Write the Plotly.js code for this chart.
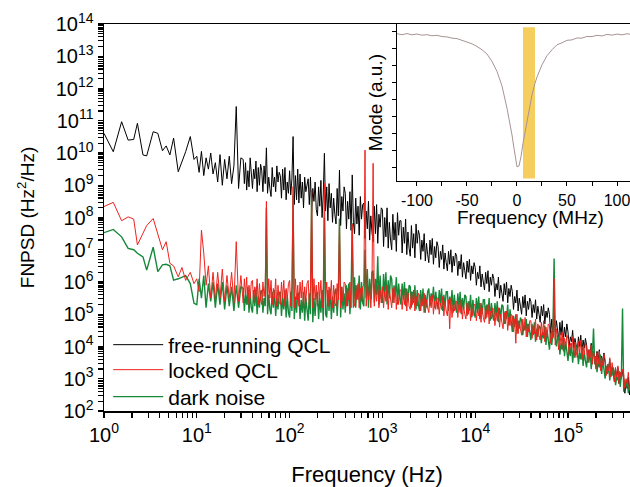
<!DOCTYPE html>
<html>
<head>
<meta charset="utf-8">
<script src="https://cdn.plot.ly/plotly-3.0.1.min.js"></script>
<style>html,body{margin:0;padding:0;background:#fff;}#chart{width:630px;height:487px;}</style>
</head>
<body>
<div id="chart"></div>
<script>
// ---- main spectrum: log10(frequency / Hz), shared by all three series ----
const logFreq = [0,0.10,0.19,0.26,0.32,0.36,0.42,0.46,0.53,0.58,0.63,0.67,0.71,0.75,0.80,0.84,0.88,0.93,0.97,
1,1.025,1.05,1.075,1.1,1.125,1.15,1.175,
1.2,1.225,1.25,1.275,1.3,1.325,1.35,1.375,
1.4,1.425,1.45,1.475,
1.5,1.5125,1.525,1.5375,1.55,1.5625,1.575,1.5875,
1.6,1.6125,1.625,1.6375,1.65,1.6625,1.675,1.6875,
1.7,1.7125,1.725,1.7375,1.75,1.7625,1.775,1.7875,
1.8,1.8125,1.825,1.8375,1.85,1.8625,1.875,1.8875,
1.9,1.9125,1.925,1.9375,1.95,1.9625,1.975,1.9875,
2,2.0125,2.025,2.0375,2.05,2.0625,2.075,2.0875,
2.1,2.1125,2.125,2.1375,2.15,2.1625,2.175,2.1875,
2.2,2.2125,2.225,2.2375,2.25,2.2625,2.275,2.2875,
2.3,2.3125,2.325,2.3375,2.35,2.3625,2.375,2.3875,
2.4,2.4125,2.425,2.4375,2.45,2.4625,2.475,2.4875,
2.5,2.5125,2.525,2.5375,2.55,2.5625,2.575,2.5875,
2.6,2.6125,2.625,2.6375,2.65,2.6625,2.675,2.6875,
2.7,2.7125,2.725,2.7375,2.75,2.7625,2.775,2.7875,
2.8,2.8125,2.825,2.8375,2.85,2.8625,2.875,2.8875,
2.9,2.9125,2.925,2.9375,2.95,2.9625,2.975,2.9875,
3,3.0125,3.025,3.0375,3.05,3.0625,3.075,3.0875,
3.1,3.1125,3.125,3.1375,3.15,3.1625,3.175,3.1875,
3.2,3.2125,3.225,3.2375,3.25,3.2625,3.275,3.2875,
3.3,3.3125,3.325,3.3375,3.35,3.3625,3.375,3.3875,
3.4,3.4125,3.425,3.4375,3.45,3.4625,3.475,3.4875,
3.5,3.5125,3.525,3.5375,3.55,3.5625,3.575,3.5875,
3.6,3.6125,3.625,3.6375,3.65,3.6625,3.675,3.6875,
3.7,3.7125,3.725,3.7375,3.75,3.7625,3.775,3.7875,
3.8,3.8125,3.825,3.8375,3.85,3.8625,3.875,3.8875,
3.9,3.9125,3.925,3.9375,3.95,3.9625,3.975,3.9875,
4,4.0125,4.025,4.0375,4.05,4.0625,4.075,4.0875,
4.1,4.1125,4.125,4.1375,4.15,4.1625,4.175,4.1875,
4.2,4.2125,4.225,4.2375,4.25,4.2625,4.275,4.2875,
4.3,4.3125,4.325,4.3375,4.35,4.3625,4.375,4.3875,
4.4,4.4125,4.425,4.4375,4.45,4.4625,4.475,4.4875,
4.5,4.5125,4.525,4.5375,4.55,4.5625,4.575,4.5875,
4.6,4.6125,4.625,4.6375,4.65,4.6625,4.675,4.6875,
4.7,4.7125,4.725,4.7375,4.75,4.7625,4.775,4.7875,
4.8,4.8125,4.825,4.8375,4.85,4.8625,4.875,4.8875,
4.9,4.9125,4.925,4.9375,4.95,4.9625,4.975,4.9875,
5,5.0125,5.025,5.0375,5.05,5.0625,5.075,5.0875,
5.1,5.1125,5.125,5.1375,5.15,5.1625,5.175,5.1875,
5.2,5.2125,5.225,5.2375,5.25,5.2625,5.275,5.2875,
5.3,5.3125,5.325,5.3375,5.35,5.3625,5.375,5.3875,
5.4,5.4125,5.425,5.4375,5.45,5.4625,5.475,5.4875,
5.5,5.5125,5.525,5.5375,5.55,5.5625,5.575,5.5875,
5.6,5.6125,5.625,5.6375,5.65,5.6625,5.675,5.6875];

// log10(FNPSD / (Hz^2/Hz))
const freeRunning = [10.61,10.04,10.97,10.40,10.42,10.92,9.94,9.91,10.66,10.61,10.07,10.22,9.94,10.46,9.42,9.73,10.04,10.51,9.8,
9.9,9.4,10.05,9.3,9.85,9.5,10.0,9.35,
9.7,9.1,9.95,9.0,9.8,9.2,9.9,9.05,
9.6,11.44,8.9,9.85,
9.8,9.05,9.7,8.85,9.45,8.95,9.85,9.2,
8.9,9.5,9.2,9.75,8.8,9.55,9.0,9.65,
9.45,8.8,9.6,9.05,10.16,8.75,9.25,8.9,
8.65,9.55,8.95,9.25,8.8,9.6,9.1,9.4,
9.3,8.6,9.5,8.85,9.55,8.55,9.1,8.75,
9.45,8.7,9.2,10.51,8.4,9.3,8.55,9.5,
8.45,9.35,8.6,9.1,8.3,9.25,8.8,9.0,
9.2,8.4,9.25,8.15,8.9,8.5,9.1,8.25,
8.05,8.95,8.35,9.15,8.0,8.7,9.99,8.2,
8.95,7.9,9.05,8.3,8.75,7.85,8.6,8.1,
7.8,8.9,8.05,9.47,7.75,8.65,8.2,8.95,
8.75,7.65,8.5,7.95,8.8,7.6,9.32,7.85,
7.5,8.6,7.8,8.35,7.45,8.65,7.95,8.4,
8.45,7.35,8.2,7.65,8.5,7.3,8.05,7.55,
7.25,8.35,7.5,8.4,7.2,8.1,7.7,8.3,
8.25,7.1,8.0,7.4,8.3,7.05,7.85,7.3,
7.0,8.1,7.3,7.85,6.95,8.15,7.45,7.9,
7.9,6.9,7.7,7.2,7.95,6.85,7.55,7.05,
6.8,7.75,7.05,7.5,6.75,7.8,7.2,7.6,
7.45,6.7,7.3,6.95,7.5,6.65,7.2,6.85,
6.6,7.3,6.85,7.35,6.55,7.1,6.75,7.25,
7.1,6.45,6.95,6.7,7.15,6.4,6.9,6.6,
6.35,6.95,6.55,7.0,6.3,6.8,6.5,6.9,
6.8,6.2,6.65,6.4,6.85,6.15,6.6,6.35,
6.1,6.65,6.3,6.7,6.05,6.5,6.25,6.6,
6.45,5.9,6.3,6.1,6.5,5.85,6.25,6.0,
5.75,6.3,5.95,6.35,5.7,6.15,5.9,6.25,
6.1,5.55,5.95,5.75,6.15,5.5,5.9,5.65,
5.4,5.95,5.6,6.0,5.35,5.8,5.55,5.9,
5.7,5.15,5.55,5.35,5.75,5.1,5.5,5.25,
5.0,5.55,5.2,5.6,4.95,5.4,5.15,5.5,
5.4,4.9,5.3,5.05,5.45,4.85,5.25,5.0,
4.75,5.25,4.95,5.3,4.7,5.1,4.9,5.2,
5.0,4.4,4.85,4.3,5.05,4.45,4.8,4.5,
4.2,4.75,4.35,4.8,4.15,4.6,4.3,4.7,
4.45,4.0,4.3,4.15,4.5,3.95,4.25,4.05,
3.85,4.3,4.0,4.35,3.8,4.2,3.95,4.25,
4.05,3.6,3.9,3.75,4.1,3.55,3.85,3.7,
3.4,3.85,3.55,3.9,3.35,3.7,3.5,3.8,
3.55,3.15,3.4,3.3,3.6,3.1,3.35,3.2,
2.9,3.3,3.05,3.35,2.85,3.2,3.0,3.25,
3.0,2.55,2.85,2.7,3.05,2.5,2.8,2.6];

const lockedQCL = [8.34,8.47,7.90,8.02,7.95,7.15,7.51,7.75,7.97,7.51,7.0,7.25,6.58,6.5,6.16,6.45,6.05,6.3,5.95,
6.1,5.7,7.61,6.9,5.9,6.5,5.5,6.3,
5.45,6.3,5.5,6.4,5.4,6.2,5.5,6.3,
5.35,7.25,5.4,6.2,
5.35,6.1,5.6,6.15,5.3,5.9,5.5,6.0,
6.05,5.35,5.85,5.55,6.1,5.3,5.95,5.45,
5.3,6.0,5.55,5.9,8.5,5.25,6.1,5.5,
6.05,5.3,5.8,5.5,6.1,5.25,5.9,5.4,
5.3,6.0,5.5,6.05,5.25,5.8,5.45,5.95,
6.05,5.25,5.85,8.96,5.2,6.1,5.45,5.9,
5.25,6.0,5.5,6.05,5.2,5.85,5.4,5.95,
6.05,5.3,5.8,8.85,5.2,6.1,5.45,5.9,
5.25,6.0,5.5,6.05,5.2,5.85,9.06,5.4,
6.0,5.25,5.85,5.45,6.05,5.2,5.9,5.35,
5.25,5.95,5.45,7.9,5.2,5.85,5.4,6.0,
5.95,5.25,5.8,5.45,6.0,5.2,7.8,5.35,
5.25,5.9,5.45,5.95,5.2,5.8,5.4,5.85,
5.9,10.09,5.25,5.75,5.45,5.95,5.2,5.85,
9.68,5.25,5.8,5.4,5.9,5.2,5.75,5.35,
5.85,5.2,5.7,5.4,5.9,5.15,5.75,5.35,
5.2,5.8,5.35,5.85,5.15,5.65,5.3,5.75,
5.75,5.15,5.6,5.3,5.8,5.1,5.65,5.25,
5.15,5.7,5.3,5.75,5.1,5.55,5.25,5.65,
5.6,5.1,5.5,5.25,5.65,5.05,5.45,5.2,
5.05,5.55,5.2,5.6,5.0,5.4,5.15,5.5,
5.5,5.0,5.35,5.15,5.55,4.95,5.4,5.1,
4.95,5.45,4.55,5.5,4.9,5.3,5.1,5.4,
5.4,4.9,5.3,5.05,5.45,4.85,5.25,5.0,
4.85,5.35,5.0,5.4,4.8,5.2,4.95,5.3,
5.3,4.8,5.15,4.95,5.35,4.75,5.2,4.9,
4.75,5.25,4.9,5.3,4.7,5.1,4.85,5.2,
5.15,4.65,5.05,4.8,5.2,4.6,5.0,4.75,
4.55,5.05,4.7,5.1,4.5,4.9,4.65,5.0,
4.95,4.45,4.85,4.1,5.0,4.4,4.8,4.55,
4.35,4.85,4.5,4.9,4.3,4.7,4.45,4.8,
4.8,4.25,4.65,4.4,4.85,4.2,4.7,4.35,
4.2,4.75,4.35,4.8,4.15,4.6,4.3,4.7,
4.65,4.1,4.5,4.25,6.1,4.05,4.55,4.2,
3.9,4.4,4.05,4.45,3.85,4.25,4.0,4.35,
4.25,3.75,4.1,3.9,4.3,3.7,4.15,3.85,
3.65,4.15,3.8,4.2,3.6,4.0,3.75,4.1,
4.0,3.5,3.9,3.65,4.05,3.45,3.85,3.6,
3.3,3.8,3.45,3.85,3.25,3.65,3.4,3.75,
3.6,3.1,3.45,3.25,3.65,3.05,3.5,3.2,
2.9,3.35,3.05,3.4,2.85,3.2,3.0,3.3,
3.15,2.7,3.0,2.85,3.2,2.65,3.05,2.8];

const darkNoise = [7.53,7.63,7.40,7.04,7.0,6.89,6.78,6.37,7.08,6.32,6.53,6.55,6.5,6.06,6.1,6.15,6.2,5.95,5.34,
5.3,6.1,5.5,6.2,5.2,5.95,5.4,6.0,
5.2,5.95,5.3,6.0,5.15,5.9,5.25,5.85,
5.1,5.9,5.2,5.85,
5.8,5.1,5.6,5.3,5.85,5.05,5.65,5.2,
5.05,5.75,5.25,5.8,5.0,5.55,5.2,5.7,
5.75,5.05,5.5,5.25,8.3,5.0,5.6,5.15,
5.0,5.7,5.2,5.75,4.95,5.5,5.15,5.65,
5.7,4.95,5.5,5.15,5.75,4.9,5.6,5.05,
4.9,5.7,5.1,8.7,4.85,5.55,5.05,5.65,
5.65,4.85,5.45,5.05,5.7,4.8,5.5,5.0,
4.8,5.65,5.0,8.6,4.75,5.5,4.95,5.6,
5.7,4.85,5.5,5.05,5.75,4.8,8.0,5.0,
4.9,5.75,5.1,5.8,4.85,5.55,5.05,5.7,
5.8,4.95,5.6,7.97,4.9,5.85,5.15,5.65,
5.05,5.9,5.25,5.95,5.0,5.7,7.82,5.2,
6.15,5.2,5.9,5.45,6.2,5.15,6.0,5.35,
5.25,7.0,5.5,6.4,5.2,6.1,5.45,6.3,
6.35,5.35,6.1,5.6,6.8,5.3,6.2,5.5,
5.35,6.25,5.55,6.3,5.3,6.05,5.5,6.2,
6.1,5.35,5.9,5.55,6.15,5.3,5.95,5.5,
5.3,5.95,5.45,6.0,5.25,5.8,5.4,5.9,
5.85,5.2,5.7,5.35,5.9,5.15,5.75,5.3,
5.1,5.75,5.25,5.8,5.05,5.6,5.2,5.7,
5.8,5.25,5.65,5.4,5.85,5.2,5.7,5.35,
5.15,5.75,5.3,5.8,5.1,5.6,5.25,5.7,
5.7,5.1,5.55,5.25,5.75,5.05,5.6,5.2,
5.05,5.65,5.2,5.7,5.0,5.5,5.15,5.6,
5.55,4.95,5.4,5.1,5.6,4.9,5.45,5.05,
4.9,5.5,5.05,5.55,4.85,5.35,5.0,5.45,
5.45,4.85,5.3,5.0,5.5,4.8,5.35,4.95,
4.8,5.35,4.95,5.4,4.75,5.2,4.9,5.3,
5.25,4.7,5.1,4.85,5.3,4.65,5.15,4.8,
4.45,4.95,4.6,5.0,4.4,4.8,4.55,4.9,
4.8,4.35,4.65,4.5,4.85,4.3,4.7,4.45,
4.2,4.7,4.35,4.75,4.15,4.55,4.3,4.65,
4.6,4.1,4.45,4.25,4.65,4.05,4.5,4.2,
3.9,4.4,4.05,4.45,6.73,4.25,4.0,4.35,
4.25,3.75,4.1,3.9,4.3,3.7,4.15,3.85,
3.55,4.05,3.7,4.1,3.5,3.9,3.65,4.0,
3.95,3.45,3.8,3.6,4.0,3.4,3.85,3.55,
3.35,3.85,3.5,3.9,3.3,3.7,4.56,3.45,
3.7,3.2,3.55,3.35,3.75,3.15,3.6,3.3,
3.0,3.4,3.15,3.45,2.95,3.3,3.1,3.35,
3.2,2.8,3.05,2.95,3.25,2.75,3.1,5.18,
2.6,2.95,2.75,3.0,2.55,2.85,2.7,2.9];

const seriesNames = ['free-running QCL', 'locked QCL', 'dark noise'];

// ---- inset: cavity mode profile ----
const insetFreqMHz = [-120,-115,-110,-105,-100,-95,-90,-85,-80,-75,-70,-65,-60,-55,-50,-45,-40,-35,-30,-25,-20,-15,-10,-7,-5,-3,-1,0,2,4,6,8,10,12,15,18,20,25,30,35,40,45,50,55,60,65,70,75,80,85,90,95,100,105,110,113];
const insetMode = [93.8,93.2,93.9,93.1,93.6,92.9,93.2,92.5,92.8,92.0,91.8,91.0,90.7,89.6,88.9,87.4,85.7,83.6,80.9,76.2,69.8,60.6,46.4,36.8,29.4,20.9,12.3,9.1,9.6,15.5,24.0,31.5,38.9,46.4,54.9,62.3,66.2,74.0,79.8,83.6,86.8,88.0,89.6,89.9,91.1,91.0,92.1,92.0,92.8,92.4,93.4,92.9,93.6,93.1,93.8,93.5];
const lockBandMHz = [6, 18];

// ---- tick labels ----
const xTickExp = [0,1,2,3,4,5];
const yTickExp = [2,3,4,5,6,7,8,9,10,11,12,13,14];
const insetXTicks = [-100,-75,-50,-25,0,25,50,75,100];
const insetXTickText = ['-100','','-50','','0','','50','','100'];

const pow10 = v => Math.pow(10, v);
const freqHz = logFreq.map(pow10);
const FONT = 'Liberation Sans, Arial, sans-serif';

// log-axis ticks: every 1..9 x 10^e, labelled only at the decades
function logTicks(exps) {
  const vals = [], text = [];
  exps.forEach((e, i) => {
    const last = i === exps.length - 1;
    for (let m = 1; m <= (last ? 1 : 9); m++) {
      vals.push(m * Math.pow(10, e));
      text.push(m === 1 ? '10<sup>' + e + '</sup>' : '');
    }
  });
  return {vals, text};
}
const xT = logTicks(xTickExp.concat([6]));
const yT = logTicks(yTickExp);

const traces = [
  {x: freqHz, y: freeRunning.map(pow10), name: seriesNames[0], type: 'scatter', mode: 'lines',
   line: {color: '#000000', width: 1}, legend: 'legend'},
  {x: freqHz, y: darkNoise.map(pow10), name: seriesNames[2], type: 'scatter', mode: 'lines',
   line: {color: '#16883a', width: 1.4}, legend: 'legend3'},
  {x: freqHz, y: lockedQCL.map(pow10), name: seriesNames[1], type: 'scatter', mode: 'lines',
   line: {color: '#f0221c', width: 1}, legend: 'legend2'},
  {x: insetFreqMHz, y: insetMode, xaxis: 'x2', yaxis: 'y2', type: 'scatter', mode: 'lines',
   line: {color: '#a89494', width: 1}, showlegend: false}
];

const axLine = {showline: true, linecolor: '#000', linewidth: 1.5, showgrid: false, zeroline: false};
const legendBase = {x: 0.008, xanchor: 'left', yanchor: 'middle', bgcolor: 'rgba(0,0,0,0)',
                    font: {family: FONT, size: 21}, itemwidth: 50, borderwidth: 0};

const layout = {
  width: 630, height: 487,
  margin: {l: 104, r: 0, t: 24, b: 76},
  paper_bgcolor: '#fff', plot_bgcolor: 'rgba(0,0,0,0)',
  font: {family: FONT, size: 18, color: '#000'},
  showlegend: true,
  legend: Object.assign({}, legendBase, {y: 0.1705}),
  legend2: Object.assign({}, legendBase, {y: 0.1059}),
  legend3: Object.assign({}, legendBase, {y: 0.0362}),
  xaxis: Object.assign({}, axLine, {
    type: 'log', range: [0, 5.668], mirror: true,
    tickmode: 'array', tickvals: xT.vals, ticktext: xT.text,
    ticks: 'outside', ticklen: 5, tickwidth: 1.2, tickcolor: '#000',
    tickfont: {family: FONT, size: 20},
    title: {text: 'Frequency (Hz)', font: {family: FONT, size: 22}, standoff: 26}
  }),
  yaxis: Object.assign({}, axLine, {
    type: 'log', range: [2, 14],
    tickmode: 'array', tickvals: yT.vals, ticktext: yT.text,
    ticks: 'outside', ticklen: 5, tickwidth: 1.2, tickcolor: '#000',
    tickfont: {family: FONT, size: 20},
    title: {text: 'FNPSD (Hz<sup>2</sup>/Hz)', font: {family: FONT, size: 19}, standoff: 16}
  }),
  xaxis2: Object.assign({}, axLine, {
    domain: [0.557, 1], anchor: 'y2', range: [-120, 113], mirror: true, linewidth: 1.2,
    tickmode: 'array', tickvals: insetXTicks, ticktext: insetXTickText, ticklabeloverflow: 'allow',
    ticks: 'outside', ticklen: 4, tickwidth: 1, tickcolor: '#000',
    tickfont: {family: FONT, size: 16}
  }),
  yaxis2: Object.assign({}, axLine, {
    domain: [0.594, 1], anchor: 'x2', range: [0, 100], linewidth: 1.2,
    tickmode: 'linear', tick0: 8.55, dtick: 10.85, showticklabels: false,
    ticks: 'outside', ticklen: 4, tickwidth: 1, tickcolor: '#000',
    title: {text: 'Mode (a.u.)', font: {family: FONT, size: 19}, standoff: 4}
  }),
  annotations: [{
    text: 'Frequency (MHz)', xref: 'x2', yref: 'paper', x: 14, y: 0.501,
    xanchor: 'center', yanchor: 'middle', showarrow: false, font: {family: FONT, size: 19}
  }],
  shapes: [{
    type: 'rect', xref: 'x2', yref: 'y2', x0: lockBandMHz[0], x1: lockBandMHz[1], y0: 1.7, y1: 98,
    fillcolor: 'rgba(242,190,40,0.75)', line: {width: 0}, layer: 'below'
  }]
};

Plotly.newPlot('chart', traces, layout, {staticPlot: true, displayModeBar: false});
</script>
</body>
</html>
